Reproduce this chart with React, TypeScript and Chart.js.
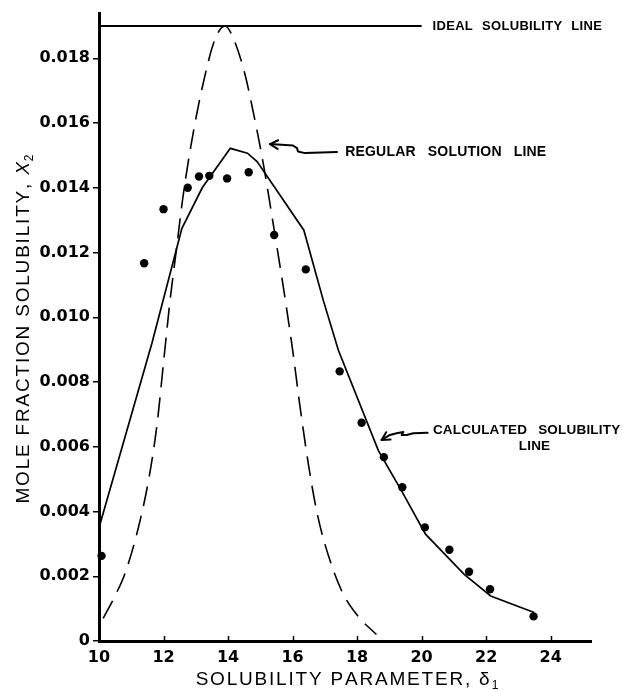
import React, { useEffect, useRef } from "react";
import { Chart, registerables } from "chart.js";

Chart.register(...registerables);

// ---------- data ----------
const xTickValues = [10, 12, 14, 16, 18, 20, 22, 24];
const yTickValues = [0, 0.002, 0.004, 0.006, 0.008, 0.01, 0.012, 0.014, 0.016, 0.018];

// experimental points
const observedX = [10.08, 11.4, 12.0, 12.75, 13.1, 13.42, 13.97, 14.64, 15.43, 16.41, 17.46, 18.14, 18.83, 19.4, 20.1, 20.86, 21.47, 22.12, 23.47];
const observedY = [0.00263, 0.01167, 0.01334, 0.014, 0.01435, 0.01437, 0.01429, 0.01448, 0.01254, 0.01148, 0.00833, 0.00674, 0.00568, 0.00475, 0.00351, 0.00282, 0.00214, 0.0016, 0.00076];

// calculated solubility line (solid)
const calcX = [10.0, 11.64, 12.57, 13.2, 14.07, 14.6, 14.9, 16.35, 16.95, 17.42, 18.66, 19.4, 20.12, 21.32, 22.14, 23.49];
const calcY = [0.0035, 0.0092, 0.01275, 0.014, 0.01522, 0.01507, 0.01481, 0.01269, 0.01053, 0.00898, 0.00588, 0.0046, 0.0033, 0.00206, 0.00139, 0.00088];

// regular solution line (dashed)
const regX = [10.13, 10.5, 10.81, 11.22, 11.56, 11.8, 12.0, 12.2, 12.4, 12.6, 12.85, 13.2, 13.6, 13.91, 14.17, 14.5, 14.79, 15.1, 15.43, 15.75, 16.0, 16.25, 16.5, 16.75, 17.0, 17.5, 18.0, 18.6];
const regY = [0.0007, 0.0014, 0.0021, 0.0035, 0.0051, 0.0067, 0.0086, 0.0105, 0.0121, 0.0137, 0.0153, 0.0171, 0.0186, 0.019, 0.0186, 0.0176, 0.0163, 0.0147, 0.0127, 0.0107, 0.009, 0.0071, 0.0054, 0.004, 0.003, 0.0016, 0.0008, 0.0002];

// ideal solubility line (horizontal)
const idealX = [10.0, 20.0];
const idealY = [0.019, 0.019];

const xMin = 10;
const xMax = 25.25;
const yMin = 0;
const yMax = 0.0194;

// annotation anchors (data units)
const idealLabel = { words: ["IDEAL", "SOLUBILITY", "LINE"], x: 20.34, y: 0.019 };
const regularLabel = { words: ["REGULAR", "SOLUTION", "LINE"], x: 17.63, y: 0.01509 };
const calcLabel1 = { words: ["CALCULATED", "SOLUBILITY"], x: 20.35, y: 0.0065 };
const calcLabel2 = { words: ["LINE"], x: 23.5, y: 0.00602 };
const regularArrowTip = { x: 15.3, y: 0.01535 };
const calcArrowTip = { x: 18.76, y: 0.00621 };

const xTitle = "SOLUBILITY PARAMETER, ";
const xTitleSym = "δ";
const xTitleSub = "1";
const yTitle = "MOLE FRACTION SOLUBILITY, ";
const yTitleSym = "X";
const yTitleSub = "2";

const toPts = (xs: number[], ys: number[]) => xs.map((x, i) => ({ x, y: ys[i] }));

const SANS = '"Liberation Sans", Arial, Helvetica, sans-serif';

function spacedWidth(ctx: CanvasRenderingContext2D, text: string, ls: number) {
  let w = 0;
  for (const ch of text) w += ctx.measureText(ch).width + ls;
  return w;
}
function drawSpaced(ctx: CanvasRenderingContext2D, text: string, x: number, y: number, ls: number) {
  for (const ch of text) {
    ctx.fillText(ch, x, y);
    x += ctx.measureText(ch).width + ls;
  }
  return x;
}
function drawWords(ctx: CanvasRenderingContext2D, words: string[], x: number, y: number, gap: number, ls: number) {
  for (const w of words) {
    x = drawSpaced(ctx, w, x, y, ls) + gap;
  }
}
function wordsWidth(ctx: CanvasRenderingContext2D, words: string[], gap: number, ls: number) {
  let w = 0;
  words.forEach((wd, i) => {
    w += spacedWidth(ctx, wd, ls) + (i < words.length - 1 ? gap : 0);
  });
  return w;
}
function drawArrow(ctx: CanvasRenderingContext2D, tipX: number, tipY: number, rel: number[][]) {
  ctx.beginPath();
  ctx.moveTo(tipX + rel[0][0], tipY + rel[0][1]);
  for (let i = 1; i < rel.length; i++) ctx.lineTo(tipX + rel[i][0], tipY + rel[i][1]);
  ctx.stroke();
  const dx = rel[1][0] - rel[0][0];
  const dy = rel[1][1] - rel[0][1];
  const ang = Math.atan2(dy, dx);
  const len = 9;
  const spread = 0.5;
  ctx.beginPath();
  ctx.moveTo(tipX + Math.cos(ang - spread) * len, tipY + Math.sin(ang - spread) * len);
  ctx.lineTo(tipX, tipY);
  ctx.lineTo(tipX + Math.cos(ang + spread) * len, tipY + Math.sin(ang + spread) * len);
  ctx.stroke();
}

const decorPlugin = {
  id: "decor",
  afterDraw(chart: any) {
    const ctx: CanvasRenderingContext2D = chart.ctx;
    const area = chart.chartArea;
    const xs = chart.scales.x;
    const ys = chart.scales.y;
    ctx.save();
    ctx.strokeStyle = "#000";
    ctx.fillStyle = "#000";

    // inward x ticks
    ctx.lineWidth = 1.5;
    xTickValues.forEach((v, i) => {
      if (i === 0) return;
      const px = Math.round(xs.getPixelForValue(v)) + 0.5;
      ctx.beginPath();
      ctx.moveTo(px, area.bottom - 1);
      ctx.lineTo(px, area.bottom - 5);
      ctx.stroke();
    });

    // x title
    const ls = 1.8;
    ctx.textBaseline = "alphabetic";
    ctx.textAlign = "left";
    ctx.font = `19px ${SANS}`;
    const w1 = spacedWidth(ctx, xTitle, ls);
    const w2 = ctx.measureText(xTitleSym).width + 2;
    ctx.font = `12px ${SANS}`;
    const w3 = ctx.measureText(xTitleSub).width;
    const cx = (area.left + area.right) / 2 + 2;
    let sx = cx - (w1 + w2 + w3) / 2;
    const by = 685;
    ctx.font = `19px ${SANS}`;
    sx = drawSpaced(ctx, xTitle, sx, by, ls);
    ctx.fillText(xTitleSym, sx, by);
    sx += w2;
    ctx.font = `12px ${SANS}`;
    ctx.fillText(xTitleSub, sx, by + 4);

    // y title
    ctx.save();
    ctx.translate(29, (area.top + area.bottom) / 2 + 2);
    ctx.rotate(-Math.PI / 2);
    ctx.font = `19px ${SANS}`;
    const v1 = spacedWidth(ctx, yTitle, ls);
    ctx.font = `italic 19px ${SANS}`;
    const v2 = ctx.measureText(yTitleSym).width + 1;
    ctx.font = `12px ${SANS}`;
    const v3 = ctx.measureText(yTitleSub).width;
    let ty = -(v1 + v2 + v3) / 2;
    ctx.font = `19px ${SANS}`;
    ty = drawSpaced(ctx, yTitle, ty, 0, ls);
    ctx.font = `italic 19px ${SANS}`;
    ctx.fillText(yTitleSym, ty, 0);
    ty += v2;
    ctx.font = `12px ${SANS}`;
    ctx.fillText(yTitleSub, ty, 4);
    ctx.restore();

    // annotations
    ctx.textBaseline = "middle";
    ctx.font = `bold 13px ${SANS}`;
    drawWords(ctx, idealLabel.words, xs.getPixelForValue(idealLabel.x), ys.getPixelForValue(idealLabel.y) + 0.5, 9, 0.3);
    ctx.font = `bold 14px ${SANS}`;
    drawWords(ctx, regularLabel.words, xs.getPixelForValue(regularLabel.x), ys.getPixelForValue(regularLabel.y), 12, 0.2);
    ctx.font = `bold 13.5px ${SANS}`;
    drawWords(ctx, calcLabel1.words, xs.getPixelForValue(calcLabel1.x), ys.getPixelForValue(calcLabel1.y), 11, 0.2);
    const lw = wordsWidth(ctx, calcLabel2.words, 11, 0.2);
    drawWords(ctx, calcLabel2.words, xs.getPixelForValue(calcLabel2.x) - lw / 2, ys.getPixelForValue(calcLabel2.y), 11, 0.2);

    // arrows
    ctx.lineWidth = 2;
    ctx.lineJoin = "round";
    ctx.lineCap = "round";
    drawArrow(ctx, xs.getPixelForValue(regularArrowTip.x), ys.getPixelForValue(regularArrowTip.y), [
      [0, 0], [23, 1.4], [27, 4], [28, 7.4], [35, 9], [67, 8],
    ]);
    drawArrow(ctx, xs.getPixelForValue(calcArrowTip.x), ys.getPixelForValue(calcArrowTip.y), [
      [0, 0], [8.3, -5], [15, -6.7], [21.7, -8], [20, -5], [25, -5], [31.7, -6.7], [46, -7.3],
    ]);

    ctx.restore();
  },
};

export default function App() {
  const canvasRef = useRef<HTMLCanvasElement | null>(null);

  useEffect(() => {
    const canvas = canvasRef.current;
    if (!canvas) return;
    const tickFont = { family: '"DejaVu Sans", sans-serif', weight: "bold" as const, size: 16 };
    const chart = new Chart(canvas, {
      type: "scatter",
      data: {
        datasets: [
          {
            label: "Ideal solubility line",
            data: toPts(idealX, idealY),
            showLine: true,
            borderColor: "#000",
            borderWidth: 2,
            pointRadius: 0,
            clip: false as any,
          },
          {
            label: "Regular solution line",
            data: toPts(regX, regY),
            showLine: true,
            borderColor: "#000",
            borderWidth: 1.6,
            borderDash: [20, 10],
            cubicInterpolationMode: "monotone",
            pointRadius: 0,
          },
          {
            label: "Calculated solubility line",
            data: toPts(calcX, calcY),
            showLine: true,
            borderColor: "#000",
            borderWidth: 1.7,
            tension: 0,
            pointRadius: 0,
            clip: false as any,
          },
          {
            label: "Observed",
            data: toPts(observedX, observedY),
            showLine: false,
            pointRadius: 4.2,
            pointBackgroundColor: "#000",
            pointBorderWidth: 0,
            clip: false as any,
          },
        ],
      },
      options: {
        animation: false,
        responsive: false,
        devicePixelRatio: 1,
        layout: { padding: { top: 13, right: 31, left: 0, bottom: 0 } },
        plugins: { legend: { display: false }, tooltip: { enabled: false } },
        events: [],
        scales: {
          x: {
            type: "linear",
            min: xMin,
            max: xMax,
            afterFit: (s: any) => {
              s.height = 49;
            },
            afterBuildTicks: (s: any) => {
              s.ticks = xTickValues.map((v) => ({ value: v }));
            },
            grid: { display: false, drawTicks: false, drawOnChartArea: false },
            border: { display: true, color: "#000", width: 3 },
            ticks: {
              color: "#000",
              font: tickFont,
              padding: 7,
              maxRotation: 0,
              autoSkip: false,
              callback: (v: any) => String(v),
            },
          },
          y: {
            type: "linear",
            min: yMin,
            max: yMax,
            afterFit: (s: any) => {
              s.width = 99;
            },
            afterBuildTicks: (s: any) => {
              s.ticks = yTickValues.map((v) => ({ value: v }));
            },
            grid: {
              display: true,
              drawOnChartArea: false,
              drawTicks: true,
              tickLength: 6,
              color: "#000",
              lineWidth: 1.5,
            },
            border: { display: true, color: "#000", width: 3 },
            ticks: {
              color: "#000",
              font: tickFont,
              padding: 3,
              autoSkip: false,
              callback: (v: any) => (Number(v) === 0 ? "0" : Number(v).toFixed(3)),
            },
          },
        },
      },
      plugins: [decorPlugin],
    } as any);
    return () => chart.destroy();
  }, []);

  return (
    <div style={{ position: "absolute", left: 0, top: 0, width: 622, height: 690, background: "#fff" }}>
      <canvas ref={canvasRef} width={622} height={690} style={{ display: "block", width: 622, height: 690 }} />
    </div>
  );
}
